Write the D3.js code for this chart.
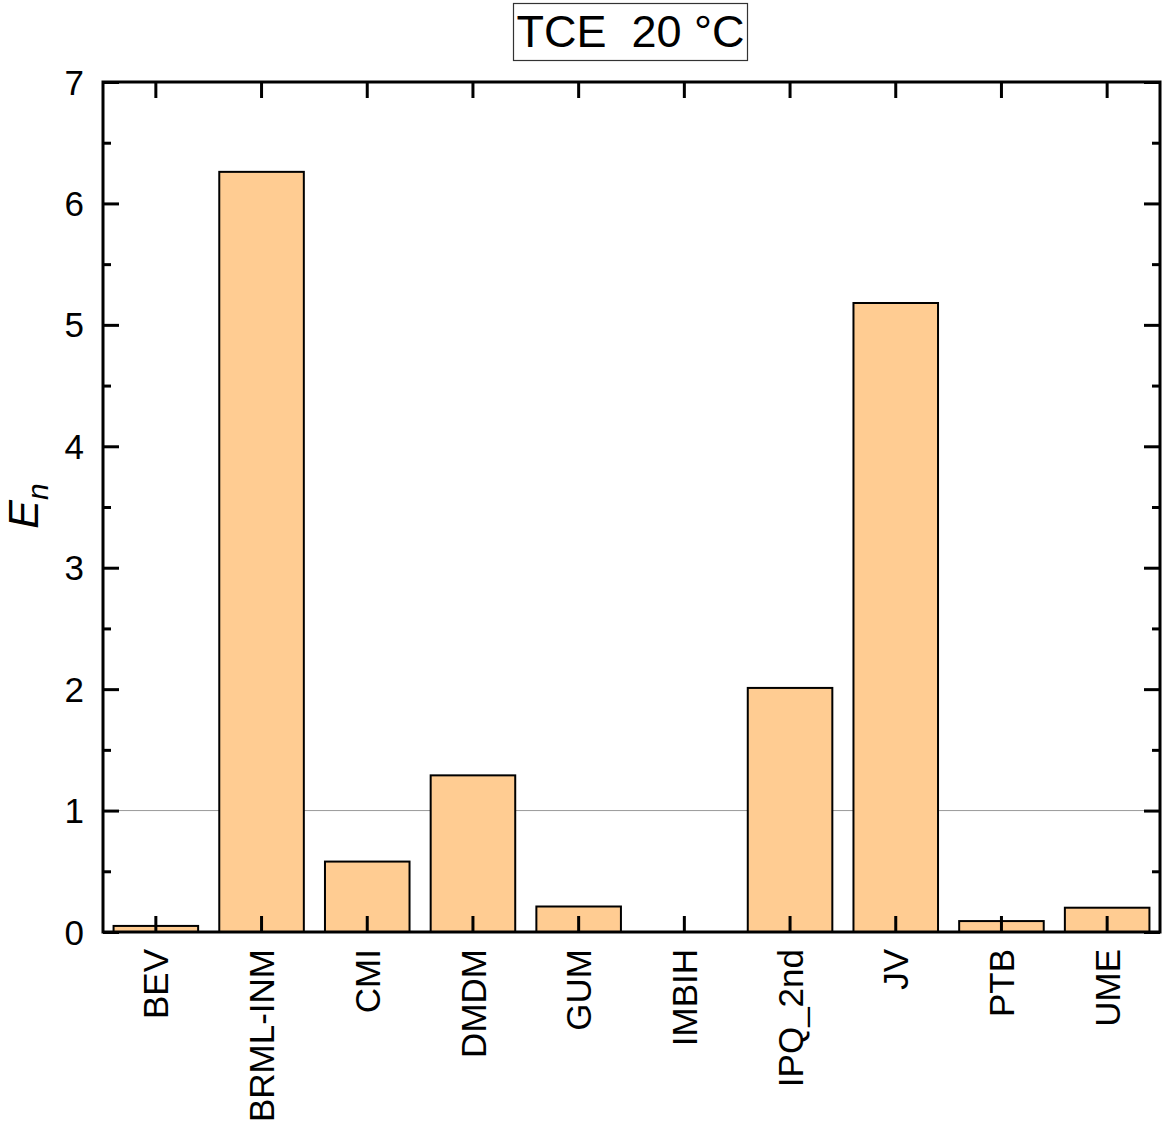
<!DOCTYPE html>
<html><head><meta charset="utf-8">
<script src="https://cdn.jsdelivr.net/npm/d3@7"></script>
<style>body{margin:0;background:#fff}svg{display:block}text{font-family:"Liberation Sans",Arial,sans-serif;white-space:pre}</style>
</head><body>
<script>
const categories = ["BEV","BRML-INM","CMI","DMDM","GUM","IMBIH","IPQ_2nd","JV","PTB","UME"];
const enValues = [0.05, 6.26, 0.58, 1.29, 0.21, 0.0, 2.01, 5.18, 0.09, 0.20];
const yTicks = [0,1,2,3,4,5,6,7];
const yMinorTicks = [0.5,1.5,2.5,3.5,4.5,5.5,6.5];
const refLine = 1;
const titleText = "TCE  20 °C";

const W = 1164, H = 1129;
const m = {left:103, right:1160, top:82, bottom:932};
const svg = d3.select("body").append("svg").attr("width",W).attr("height",H);

const x = d3.scaleBand().domain(categories).range([m.left,m.right]).paddingInner(0.2).paddingOuter(0.1);
const y = d3.scaleLinear().domain([0,7]).range([m.bottom,m.top]);

// reference line
svg.append("line").attr("x1",m.left).attr("x2",m.right).attr("y1",y(refLine)).attr("y2",y(refLine))
  .attr("stroke","#999").attr("stroke-width",1);

// bars
svg.selectAll("rect.bar").data(categories).enter().append("rect").attr("class","bar")
  .attr("x",d=>x(d)).attr("width",x.bandwidth())
  .attr("y",(d,i)=>y(enValues[i])).attr("height",(d,i)=>y(0)-y(enValues[i]))
  .attr("fill",(d,i)=>enValues[i]>0?"#ffcc92":"none")
  .attr("stroke",(d,i)=>enValues[i]>0?"#000":"none").attr("stroke-width",2);

// axes with inward ticks
const xc = d=>x(d)+x.bandwidth()/2;
const gB = svg.append("g").attr("transform",`translate(0,${m.bottom})`)
  .call(d3.axisBottom(x).tickSizeInner(-16).tickSizeOuter(0).tickFormat(""));
const gT = svg.append("g").attr("transform",`translate(0,${m.top})`)
  .call(d3.axisTop(x).tickSizeInner(-16).tickSizeOuter(0).tickFormat(""));
const gL = svg.append("g").attr("transform",`translate(${m.left},0)`)
  .call(d3.axisLeft(y).tickValues(yTicks).tickSizeInner(-16).tickSizeOuter(0).tickFormat(""));
const gR = svg.append("g").attr("transform",`translate(${m.right},0)`)
  .call(d3.axisRight(y).tickValues(yTicks).tickSizeInner(-16).tickSizeOuter(0).tickFormat(""));
const gLm = svg.append("g").attr("transform",`translate(${m.left},0)`)
  .call(d3.axisLeft(y).tickValues(yMinorTicks).tickSizeInner(-8).tickSizeOuter(0).tickFormat(""));
const gRm = svg.append("g").attr("transform",`translate(${m.right},0)`)
  .call(d3.axisRight(y).tickValues(yMinorTicks).tickSizeInner(-8).tickSizeOuter(0).tickFormat(""));
[gB,gT,gL,gR,gLm,gRm].forEach(g=>{
  g.selectAll(".tick line").attr("stroke","#000").attr("stroke-width",3);
  g.select(".domain").remove();
});
// frame
svg.append("rect").attr("x",m.left).attr("y",m.top).attr("width",m.right-m.left).attr("height",m.bottom-m.top)
  .attr("fill","none").attr("stroke","#000").attr("stroke-width",3);

// y tick labels
svg.selectAll("text.yt").data(yTicks).enter().append("text").attr("class","yt")
  .attr("x",84).attr("y",d=>y(d)).attr("dy","0.36em").attr("text-anchor","end")
  .attr("font-size",35).text(d=>d);

// x labels rotated
svg.selectAll("text.xt").data(categories).enter().append("text").attr("class","xt")
  .attr("transform",d=>`translate(${xc(d)},949) rotate(-90)`)
  .attr("text-anchor","end").attr("dy","0.36em").attr("font-size",35).text(d=>d);

// y label
const yl = svg.append("text").attr("transform",`translate(38,506) rotate(-90)`)
  .attr("text-anchor","middle").attr("font-size",43).attr("font-style","italic");
yl.append("tspan").text("E");
yl.append("tspan").attr("font-size",30).attr("dy",10).text("n");

// title box
const tb = svg.append("g");
tb.append("rect").attr("x",513.5).attr("y",3.5).attr("width",234).attr("height",57)
  .attr("fill","#fff").attr("stroke","#333").attr("stroke-width",1.2);
tb.append("text").attr("x",630.5).attr("y",47).attr("text-anchor","middle").attr("font-size",45)
  .attr("xml:space","preserve").text(titleText);
</script>
</body></html>
